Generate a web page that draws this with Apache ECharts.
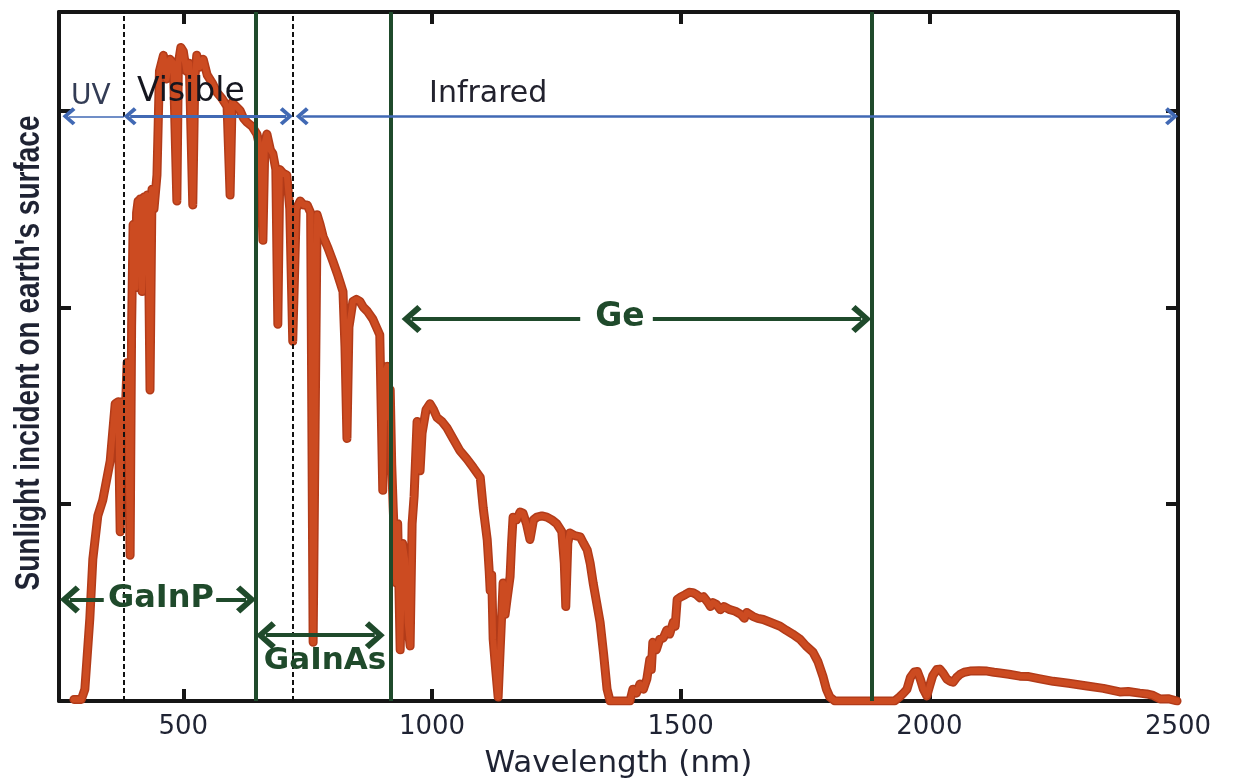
<!DOCTYPE html>
<html>
<head>
<meta charset="utf-8">
<title>Solar spectrum and multi-junction cell bands</title>
<script src="https://cdn.jsdelivr.net/npm/echarts@6/dist/echarts.min.js"></script>
<style>
  html, body { margin: 0; padding: 0; background: #ffffff; }
  #chart { width: 1233px; height: 784px; }
</style>
</head>
<body>
<div id="chart"></div>
<script>
// Spectral irradiance at the earth's surface (W/m^2/nm) against wavelength (nm)
const wavelengthNm = [
  280, 295, 302, 312, 318, 328, 338, 353, 363, 369, 373, 377, 383, 387, 393, 396, 399, 401, 404, 406,
  409, 410, 413, 415, 417, 419, 421, 424, 427, 430, 433, 437, 441, 447, 452, 460, 466, 473, 480, 487,
  490, 495, 500, 506, 512, 519, 523, 527, 533, 540, 548, 558, 568, 578, 588, 594, 598, 606, 614, 621,
  628, 638, 648, 655, 660, 664, 668, 675, 680, 686, 690, 694, 701, 708, 714, 720, 724, 727, 735, 742,
  749, 756, 761, 765, 769, 775, 781, 791, 801, 811, 816, 821, 825, 829, 833, 841, 848, 855, 862, 870,
  881, 888, 895, 901, 905, 910, 913, 916, 919, 922, 928, 931, 936, 941, 946, 951, 956, 960, 964, 970,
  973, 976, 980, 988, 996, 1003, 1010, 1020, 1030, 1043, 1056, 1070, 1083, 1097, 1103, 1107, 1111, 1115, 1117, 1120,
  1123, 1128, 1133, 1137, 1143, 1147, 1151, 1157, 1160, 1163, 1170, 1177, 1183, 1190, 1197, 1204, 1211, 1221, 1231, 1241,
  1251, 1261, 1266, 1269, 1273, 1277, 1287, 1298, 1305, 1312, 1318, 1324, 1331, 1338, 1345, 1352, 1358, 1380, 1398, 1404,
  1411, 1418, 1425, 1432, 1438, 1441, 1444, 1451, 1458, 1465, 1472, 1478, 1485, 1489, 1493, 1501, 1509, 1517, 1525, 1532,
  1539, 1546, 1555, 1560, 1565, 1572, 1580, 1587, 1599, 1610, 1621, 1628, 1633, 1645, 1655, 1666, 1680, 1690, 1700, 1712,
  1725, 1740, 1752, 1766, 1776, 1786, 1793, 1800, 1810, 1880, 1930, 1940, 1948, 1955, 1962, 1970, 1976, 1982, 1988, 1995,
  2001, 2007, 2015, 2021, 2028, 2035, 2042, 2048, 2055, 2062, 2070, 2082, 2100, 2116, 2130, 2142, 2160, 2182, 2200, 2220,
  2249, 2280, 2317, 2350, 2383, 2400, 2423, 2437, 2450, 2464, 2480, 2498
];
const irradiance = [
  0.004, 0.004, 0.03, 0.21, 0.36, 0.47, 0.51, 0.61, 0.755, 0.76, 0.43, 0.76, 0.72, 0.86, 0.37, 0.95, 1.21, 1.10, 1.05, 1.24,
  1.27, 1.12, 1.275, 1.27, 1.04, 1.10, 1.28, 1.27, 1.285, 1.15, 0.79, 1.30, 1.25, 1.336, 1.60, 1.64, 1.58, 1.63, 1.62, 1.27,
  1.62, 1.66, 1.65, 1.60, 1.62, 1.26, 1.58, 1.64, 1.61, 1.63, 1.59, 1.57, 1.545, 1.53, 1.51, 1.285, 1.52, 1.51, 1.50, 1.48,
  1.47, 1.46, 1.44, 1.40, 1.17, 1.42, 1.44, 1.40, 1.39, 1.35, 0.957, 1.35, 1.34, 1.336, 1.25, 0.914, 1.10, 1.25, 1.27, 1.26,
  1.26, 1.24, 0.149, 0.70, 1.235, 1.21, 1.18, 1.15, 1.116, 1.08, 1.06, 1.04, 0.90, 0.667, 0.95, 1.015, 1.02, 1.015, 1.00, 0.99,
  0.97, 0.95, 0.93, 0.535, 0.83, 0.85, 0.72, 0.79, 0.60, 0.49, 0.30, 0.45, 0.13, 0.40, 0.36, 0.20, 0.14, 0.45, 0.52, 0.71,
  0.68, 0.585, 0.68, 0.74, 0.755, 0.74, 0.72, 0.71, 0.694, 0.665, 0.636, 0.615, 0.593, 0.568, 0.49, 0.45, 0.41, 0.33, 0.28, 0.32,
  0.157, 0.08, 0.01, 0.13, 0.30, 0.22, 0.26, 0.316, 0.40, 0.467, 0.46, 0.48, 0.477, 0.45, 0.41, 0.46, 0.467, 0.47, 0.467, 0.46,
  0.45, 0.43, 0.35, 0.24, 0.40, 0.427, 0.42, 0.417, 0.40, 0.384, 0.35, 0.30, 0.25, 0.20, 0.12, 0.03, 0.0, 0.0, 0.0, 0.03,
  0.02, 0.043, 0.03, 0.056, 0.106, 0.08, 0.149, 0.13, 0.157, 0.16, 0.18, 0.17, 0.20, 0.19, 0.258, 0.265, 0.27, 0.276, 0.275, 0.27,
  0.262, 0.265, 0.25, 0.24, 0.25, 0.245, 0.232, 0.24, 0.232, 0.228, 0.22, 0.21, 0.225, 0.215, 0.21, 0.207, 0.20, 0.195, 0.19, 0.18,
  0.17, 0.157, 0.14, 0.124, 0.10, 0.063, 0.03, 0.01, 0.0, 0.0, 0.0, 0.01, 0.02, 0.03, 0.06, 0.074, 0.075, 0.055, 0.03, 0.013,
  0.04, 0.065, 0.08, 0.081, 0.07, 0.056, 0.05, 0.048, 0.06, 0.068, 0.073, 0.076, 0.077, 0.076, 0.073, 0.071, 0.068, 0.063, 0.062, 0.057,
  0.05, 0.045, 0.038, 0.032, 0.023, 0.024, 0.02, 0.018, 0.014, 0.005, 0.006, 0.0
];

// Axis ticks
const xTicks = [500, 1000, 1500, 2000, 2500];
const yTicks = [0.5, 1.0, 1.5];

// Spectral regions and their boundaries (nm)
const bandNames = ['UV', 'Visible', 'Infrared'];
const bandEdgesNm = [380, 720];

// Sub-cells of the triple-junction cell and their absorption cut-off wavelengths (nm)
const cellNames = ['GaInP', 'GaInAs', 'Ge'];
const cellEdgesNm = [645, 917, 1885];

const X_MIN = 250, X_MAX = 2500;
const AXIS_COLOR = '#161616';
const TEXT_COLOR = '#1f2333';
const CELL_GREEN = '#1f4a2b';
const BAND_BLUE = '#4169b4';
const SPECTRUM_RED = '#cc4b21';
const SPECTRUM_EDGE = '#b23b19';

// open chevron head, pointing along the line
const CHEVRON = 'path://M10,0 L20,11 L17,14 L10,6 L3,14 L0,11 Z';

function arrow(from, to, y, color, width, headStart, headEnd, headSize) {
  return [
    { coord: [from, y], symbol: headStart ? CHEVRON : 'none', symbolSize: headSize,
      lineStyle: { color: color, width: width, type: 'solid' } },
    { coord: [to, y], symbol: headEnd ? CHEVRON : 'none', symbolSize: headSize }
  ];
}

const bandY = 1.485;
const blueHead = [18, 13];
const greenHead = [28, 20];

const guideLines = [
  // region boundaries (dashed)
  { xAxis: bandEdgesNm[0], lineStyle: { color: '#111111', width: 2, type: [5, 3] } },
  { xAxis: bandEdgesNm[1], lineStyle: { color: '#111111', width: 2, type: [5, 3] } },
  // sub-cell cut-offs (solid green)
  { xAxis: cellEdgesNm[0], lineStyle: { color: CELL_GREEN, width: 4, type: 'solid' } },
  { xAxis: cellEdgesNm[1], lineStyle: { color: CELL_GREEN, width: 4, type: 'solid' } },
  { xAxis: cellEdgesNm[2], lineStyle: { color: CELL_GREEN, width: 4, type: 'solid' } },
  // UV / Visible / Infrared spans
  arrow(270, bandEdgesNm[0], bandY, BAND_BLUE, 1.5, true, false, blueHead),
  arrow(bandEdgesNm[0] + 13, bandEdgesNm[1] - 13, bandY, BAND_BLUE, 3, true, true, blueHead),
  arrow(bandEdgesNm[1] + 19, X_MAX - 13, bandY, BAND_BLUE, 2.5, true, true, blueHead),
  // GaInP span
  arrow(272, 340, 0.258, CELL_GREEN, 4, true, false, greenHead),
  arrow(566, cellEdgesNm[0] - 19, 0.258, CELL_GREEN, 4, false, true, greenHead),
  // GaInAs span
  arrow(cellEdgesNm[0] + 21, 885, 0.167, CELL_GREEN, 4, true, true, greenHead),
  // Ge span
  arrow(cellEdgesNm[1] + 42, 1298, 0.97, CELL_GREEN, 4, true, false, greenHead),
  arrow(1444, cellEdgesNm[2] - 22, 0.97, CELL_GREEN, 4, false, true, greenHead)
];

function textMark(name, x, y, family, size, weight, color) {
  return {
    name: name,
    value: [x, y],
    label: { fontFamily: family, fontSize: size, fontWeight: weight, color: color }
  };
}

const textMarks = [
  textMark(bandNames[0], 314, 1.535, 'DejaVu Sans', 28, 'normal', '#333c55'),
  textMark(bandNames[1], 515, 1.545, 'DejaVu Sans', 33, 'normal', '#15161f'),
  textMark(bandNames[2], 1113, 1.54, 'DejaVu Sans', 30, 'normal', '#22222e'),
  textMark(cellNames[0], 455, 0.26, 'DejaVu Sans', 32, 'bold', CELL_GREEN),
  textMark(cellNames[1], 785, 0.101, 'DejaVu Sans', 31, 'bold', CELL_GREEN),
  textMark(cellNames[2], 1378, 0.975, 'DejaVu Sans', 33, 'bold', CELL_GREEN)
];

const frameLine = { show: true, onZero: false, lineStyle: { color: AXIS_COLOR, width: 4 } };

function xTickStyle() {
  return { show: true, inside: true, length: 12, customValues: xTicks,
           lineStyle: { color: AXIS_COLOR, width: 4 } };
}
function yTickStyle() {
  return { show: true, inside: true, length: 12, customValues: yTicks,
           lineStyle: { color: AXIS_COLOR, width: 4 } };
}

const spectrumPoints = wavelengthNm.map((w, i) => [w, irradiance[i]]);

const chart = echarts.init(document.getElementById('chart'));
chart.setOption({
  backgroundColor: '#ffffff',
  animation: false,
  grid: { left: 59, right: 55, top: 12, bottom: 82 },
  graphic: [
    {
      // y-axis title, drawn bold and tall
      type: 'text',
      x: 29, y: 353,
      rotation: Math.PI / 2,
      scaleY: 1.28,
      silent: true,
      style: {
        text: "Sunlight incident on earth's surface",
        font: 'bold 28px "Liberation Sans", Arial, sans-serif',
        fill: TEXT_COLOR,
        align: 'center',
        verticalAlign: 'middle'
      }
    }
  ],
  xAxis: [
    {
      type: 'value', min: X_MIN, max: X_MAX, position: 'bottom',
      name: 'Wavelength (nm)', nameLocation: 'middle', nameGap: 47,
      nameTextStyle: { fontFamily: 'DejaVu Sans', fontSize: 31, color: TEXT_COLOR },
      axisLine: frameLine,
      axisTick: xTickStyle(),
      axisLabel: { customValues: xTicks, fontFamily: 'DejaVu Sans', fontSize: 26,
                   color: TEXT_COLOR, margin: 13, formatter: (v) => String(v) },
      splitLine: { show: false }
    },
    {
      type: 'value', min: X_MIN, max: X_MAX, position: 'top',
      axisLine: frameLine,
      axisTick: xTickStyle(),
      axisLabel: { show: false },
      splitLine: { show: false }
    }
  ],
  yAxis: [
    {
      type: 'value', min: 0, max: 1.75, position: 'left',
      axisLine: frameLine,
      axisTick: yTickStyle(),
      axisLabel: { show: false },
      splitLine: { show: false }
    },
    {
      type: 'value', min: 0, max: 1.75, position: 'right',
      axisLine: frameLine,
      axisTick: yTickStyle(),
      axisLabel: { show: false },
      splitLine: { show: false }
    }
  ],
  series: [
    {
      name: 'Spectral irradiance edge',
      type: 'line',
      xAxisIndex: 0, yAxisIndex: 0,
      data: spectrumPoints,
      showSymbol: false,
      silent: true,
      lineStyle: { color: SPECTRUM_EDGE, width: 9, join: 'round', cap: 'round' },
      z: 2
    },
    {
      name: 'Spectral irradiance',
      type: 'line',
      xAxisIndex: 0, yAxisIndex: 0,
      data: spectrumPoints,
      showSymbol: false,
      silent: true,
      lineStyle: { color: SPECTRUM_RED, width: 6, join: 'round', cap: 'round' },
      z: 2
    },
    {
      name: 'Guides',
      type: 'line',
      xAxisIndex: 0, yAxisIndex: 0,
      data: [],
      silent: true,
      z: 3,
      markLine: {
        silent: true,
        animation: false,
        symbol: 'none',
        label: { show: false },
        data: guideLines
      }
    },
    {
      name: 'Labels',
      type: 'scatter',
      xAxisIndex: 0, yAxisIndex: 0,
      symbolSize: 1,
      itemStyle: { color: 'rgba(0,0,0,0)', opacity: 1 },
      silent: true,
      z: 6,
      label: { show: true, position: 'inside', formatter: '{b}' },
      data: textMarks
    }
  ]
});
</script>
</body>
</html>
